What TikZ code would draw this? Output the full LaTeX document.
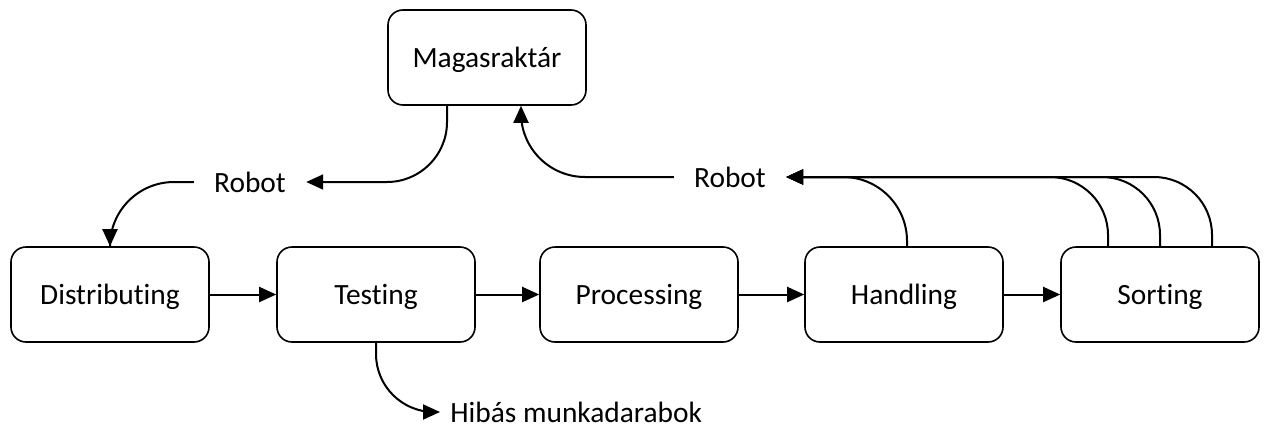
\documentclass[tikz,border=0pt]{standalone}
\usepackage{fontspec}
\setmainfont[Ligatures=NoCommon]{Carlito}
\usetikzlibrary{arrows.meta}

\tikzset{
  station/.style={draw, line width=0.8pt, rounded corners=7.5pt,
    minimum width=99pt, minimum height=47.5pt, inner sep=0pt,
    text height=12pt, text depth=2pt,
    font=\fontsize{14.7}{17}\selectfont},
  flowtext/.style={inner xsep=10pt, inner ysep=0pt, font=\fontsize{14.7}{17}\selectfont},
  flow/.style={line width=1pt, -{Triangle[length=8.5pt,width=7.5pt]}},
}

\begin{document}
\begin{tikzpicture}[x=0.5pt,y=-0.5pt]
  \useasboundingbox (0,0) rectangle (1267,428);
  \node[station] (mag)  at (487,57.5)  {Magasraktár};
  \node[station] (dist) at (110,294.5) {Distributing};
  \node[station] (test) at (376,294.5) {Testing};
  \node[station] (proc) at (639,294.5) {Processing};
  \node[station] (hand) at (904,294.5) {Handling};
  \node[station] (sort) at (1160,294.5) {Sorting};
  \node[flowtext] (rob1) at (250,182) {Robot};
  \node[flowtext] (rob2) at (730,177) {Robot};
  \node[flowtext, anchor=west, inner xsep=5pt] (hib) at (440,412) {Hibás munkadarabok};
  \foreach \a/\b in {dist/test, test/proc, proc/hand, hand/sort}
    \draw[flow] (\a) -- (\b);
  \draw[flow, rounded corners=30pt] ([xshift=-20pt]mag.south) |- (rob1.east);
  \draw[flow, rounded corners=32pt] (rob1.west) -| (dist.north);
  \draw[flow, rounded corners=32pt] (rob2.west) -| ([xshift=17pt]mag.south);
  \draw[flow, rounded corners=32pt] ([xshift=1.5pt]hand.north) |- (rob2.east);
  \foreach \dx in {-26,0,26}
    \draw[flow, rounded corners=29pt] ([xshift=\dx pt]sort.north) |- (rob2.east);
  \draw[flow, rounded corners=29pt] (test.south) |- (hib.west);
\end{tikzpicture}
\end{document}
